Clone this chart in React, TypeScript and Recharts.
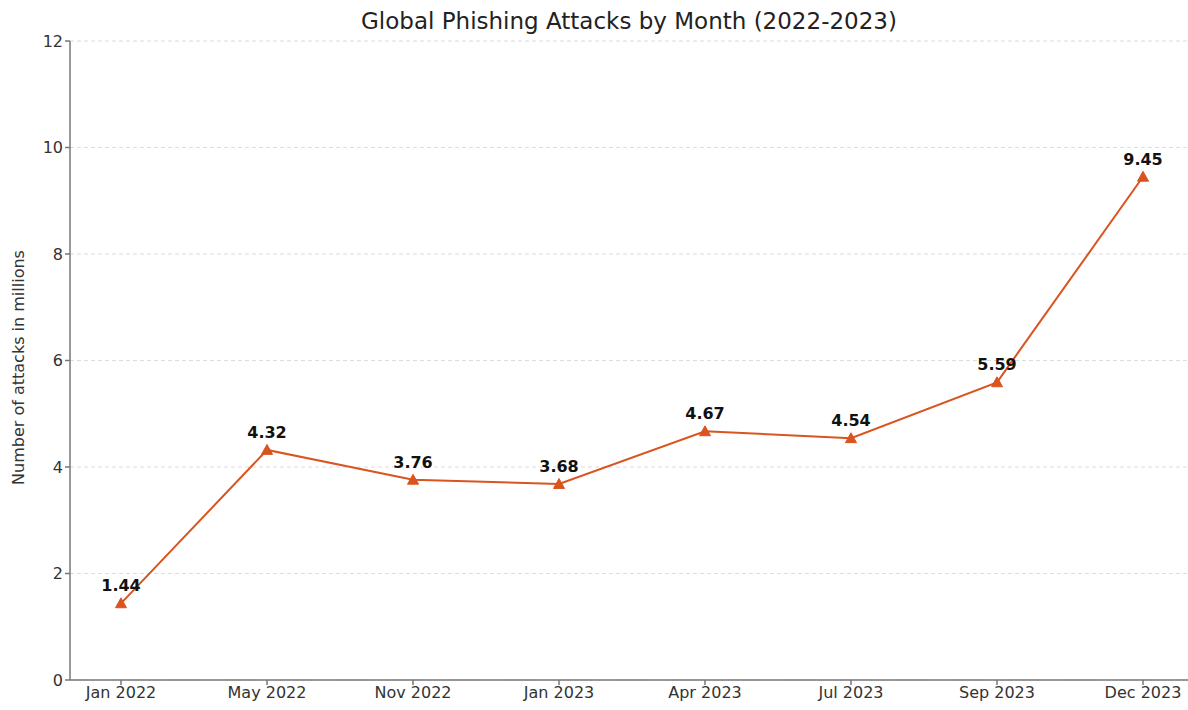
import React from 'react';
import { LineChart, Line, XAxis, YAxis, CartesianGrid, LabelList } from 'recharts';

const months = ['Jan 2022', 'May 2022', 'Nov 2022', 'Jan 2023', 'Apr 2023', 'Jul 2023', 'Sep 2023', 'Dec 2023'];
const attacks = [1.44, 4.32, 3.76, 3.68, 4.67, 4.54, 5.59, 9.45];
const yTicks = [0, 2, 4, 6, 8, 10, 12];

const data = months.map((m, i) => ({ month: m, value: attacks[i] }));

const FONT = 'DejaVu Sans, sans-serif';
const COLOR = '#d9541e';

const Triangle = (props: any) => {
  const { cx, cy } = props;
  if (cx == null || cy == null) return null;
  const s = 5.5;
  return <path d={`M${cx},${cy - s} L${cx + s},${cy + s * 0.8} L${cx - s},${cy + s * 0.8} Z`} fill={COLOR} stroke={COLOR} strokeWidth={1} />;
};

export default function App() {
  return (
    <div style={{ position: 'absolute', left: 0, top: 0, width: 1188, height: 710, background: '#fff' }}>
      <div style={{ position: 'absolute', top: 8, left: 70, width: 1118, textAlign: 'center', fontFamily: FONT, fontSize: 23, color: '#222' }}>
        Global Phishing Attacks by Month (2022-2023)
      </div>
      <LineChart width={1188} height={710} data={data} margin={{ top: 41, right: 0, bottom: 0, left: 0 }}>
        <CartesianGrid vertical={false} stroke="#dcdcdc" strokeDasharray="4 3" />
        <XAxis
          dataKey="month"
          padding={{ left: 51, right: 45 }}
          height={30}
          stroke="#777"
          strokeWidth={1.5}
          tickSize={5}
          tick={{ fill: '#333', fontSize: 16, fontFamily: FONT }}
          interval={0}
        />
        <YAxis
          width={70}
          domain={[0, 12]}
          ticks={yTicks}
          stroke="#777"
          strokeWidth={1.5}
          tickSize={5}
          tick={{ fill: '#333', fontSize: 16, fontFamily: FONT }}
          label={{ value: 'Number of attacks in millions', angle: -90, position: 'insideLeft', offset: 10, dx: 8, dy: 7, style: { textAnchor: 'middle', fill: '#333', fontSize: 16, fontFamily: FONT } }}
        />
        <Line
          type="linear"
          dataKey="value"
          stroke={COLOR}
          strokeWidth={2}
          dot={<Triangle />}
          activeDot={false}
          isAnimationActive={false}
        >
          <LabelList dataKey="value" position="top" offset={12} style={{ fill: '#111', fontSize: 16, fontWeight: 'bold', fontFamily: FONT }} formatter={(v: any) => Number(v).toFixed(2)} />
        </Line>
      </LineChart>
    </div>
  );
}
